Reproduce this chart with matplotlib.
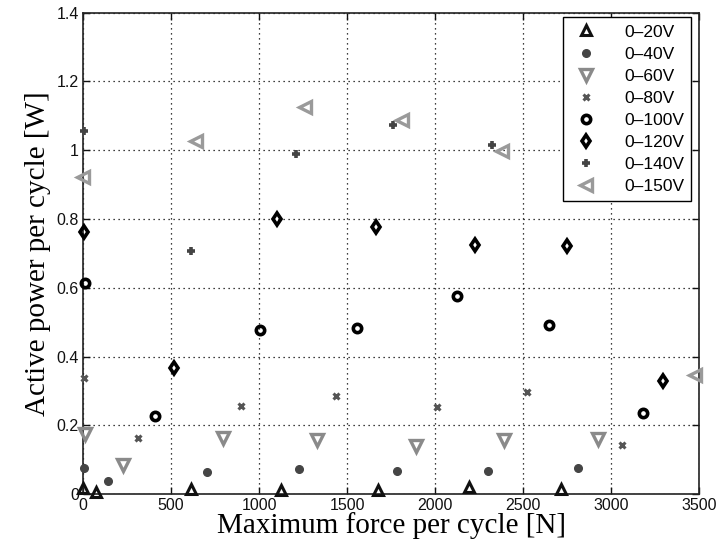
import matplotlib
matplotlib.use("Agg")
import matplotlib.pyplot as plt

labels = ["0\u201320V", "0\u201340V", "0\u201360V", "0\u201380V", "0\u2013100V", "0\u2013120V", "0\u2013140V", "0\u2013150V"]

x_20 = [0, 74, 612, 1125, 1678, 2195, 2714]
y_20 = [0.017, 0.007, 0.015, 0.013, 0.012, 0.021, 0.015]

x_40 = [7, 144, 703, 1227, 1782, 2301, 2814]
y_40 = [0.075, 0.037, 0.065, 0.074, 0.068, 0.068, 0.077]

x_60 = [11, 225, 797, 1328, 1890, 2392, 2928]
y_60 = [0.176, 0.084, 0.164, 0.157, 0.140, 0.157, 0.161]

x_80 = [6, 314, 898, 1438, 2013, 2521, 3061]
y_80 = [0.338, 0.163, 0.257, 0.284, 0.253, 0.297, 0.144]

x_100 = [11, 411, 1006, 1555, 2123, 2646, 3180]
y_100 = [0.614, 0.228, 0.477, 0.484, 0.577, 0.492, 0.237]

x_120 = [7, 519, 1104, 1663, 2227, 2752, 3297]
y_120 = [0.762, 0.366, 0.799, 0.777, 0.724, 0.720, 0.328]

x_140 = [7, 614, 1210, 1760, 2322]
y_140 = [1.057, 0.707, 0.990, 1.072, 1.016]

x_150 = [2, 642, 1261, 1811, 2379, 3477]
y_150 = [0.922, 1.028, 1.125, 1.089, 0.999, 0.347]

xticks = [0, 500, 1000, 1500, 2000, 2500, 3000, 3500]
yticks = [0, 0.2, 0.4, 0.6, 0.8, 1.0, 1.2, 1.4]
ytick_labels = ["0", "0.2", "0.4", "0.6", "0.8", "1", "1.2", "1.4"]

fig = plt.figure(figsize=(7.18, 5.49), dpi=100)
ax = fig.add_axes([0.1156, 0.1, 0.858, 0.877])

sans = "Liberation Sans"
serif = "Liberation Serif"

ax.plot(x_20, y_20, linestyle="none", marker="^", ms=6.5, mfc="none", mec="#111111", mew=2.2, label=labels[0], clip_on=False, zorder=3)
ax.plot(x_40, y_40, linestyle="none", marker="o", ms=5.5, mfc="#454545", mec="#454545", mew=1.0, label=labels[1], clip_on=False, zorder=3)
ax.plot(x_60, y_60, linestyle="none", marker="v", ms=8, mfc="none", mec="#8a8a8a", mew=2.4, label=labels[2], clip_on=False, zorder=3)
ax.plot(x_80, y_80, linestyle="none", marker="x", ms=4.5, mfc="none", mec="#555555", mew=2.2, label=labels[3], clip_on=False, zorder=3)
ax.plot(x_100, y_100, linestyle="none", marker="o", ms=6, mfc="none", mec="#000000", mew=2.6, label=labels[4], clip_on=False, zorder=3)
ax.plot(x_120, y_120, linestyle="none", marker="d", ms=6.5, mfc="none", mec="#000000", mew=2.6, label=labels[5], clip_on=False, zorder=3)
ax.plot(x_140, y_140, linestyle="none", marker="+", ms=6, mfc="none", mec="#444444", mew=2.6, label=labels[6], clip_on=False, zorder=3)
ax.plot(x_150, y_150, linestyle="none", marker="<", ms=8, mfc="none", mec="#9a9a9a", mew=2.4, label=labels[7], clip_on=False, zorder=3)

ax.set_xlim(0, 3500)
ax.set_ylim(0, 1.4)
ax.set_xticks(xticks)
ax.set_xticklabels([str(v) for v in xticks], fontfamily=sans, fontsize=11.5)
ax.set_yticks(yticks)
ax.set_yticklabels(ytick_labels, fontfamily=sans, fontsize=11.5)
ax.tick_params(direction="in", top=True, right=True, length=5, width=1, pad=3, colors="#111111")

ax.grid(True, color="black", linestyle=(0, (1, 3)), linewidth=0.9)
for sp in ax.spines.values():
    sp.set_linewidth(1.2)
    sp.set_color("#222222")

ax.set_xlabel("Maximum force per cycle [N]", fontfamily=serif, fontsize=21, labelpad=-1)
ax.set_ylabel("Active power per cycle [W]", fontfamily=serif, fontsize=21, labelpad=4)

leg = ax.legend(loc="upper right", bbox_to_anchor=(0.987, 0.99), prop={"family": sans, "size": 12.5},
                frameon=True, fancybox=False, edgecolor="black", framealpha=1,
                borderpad=0.4, labelspacing=0.4, handletextpad=1.3, handlelength=1.8, borderaxespad=0)
leg.get_frame().set_linewidth(1.0)

fig.savefig("out.png", dpi=100)
